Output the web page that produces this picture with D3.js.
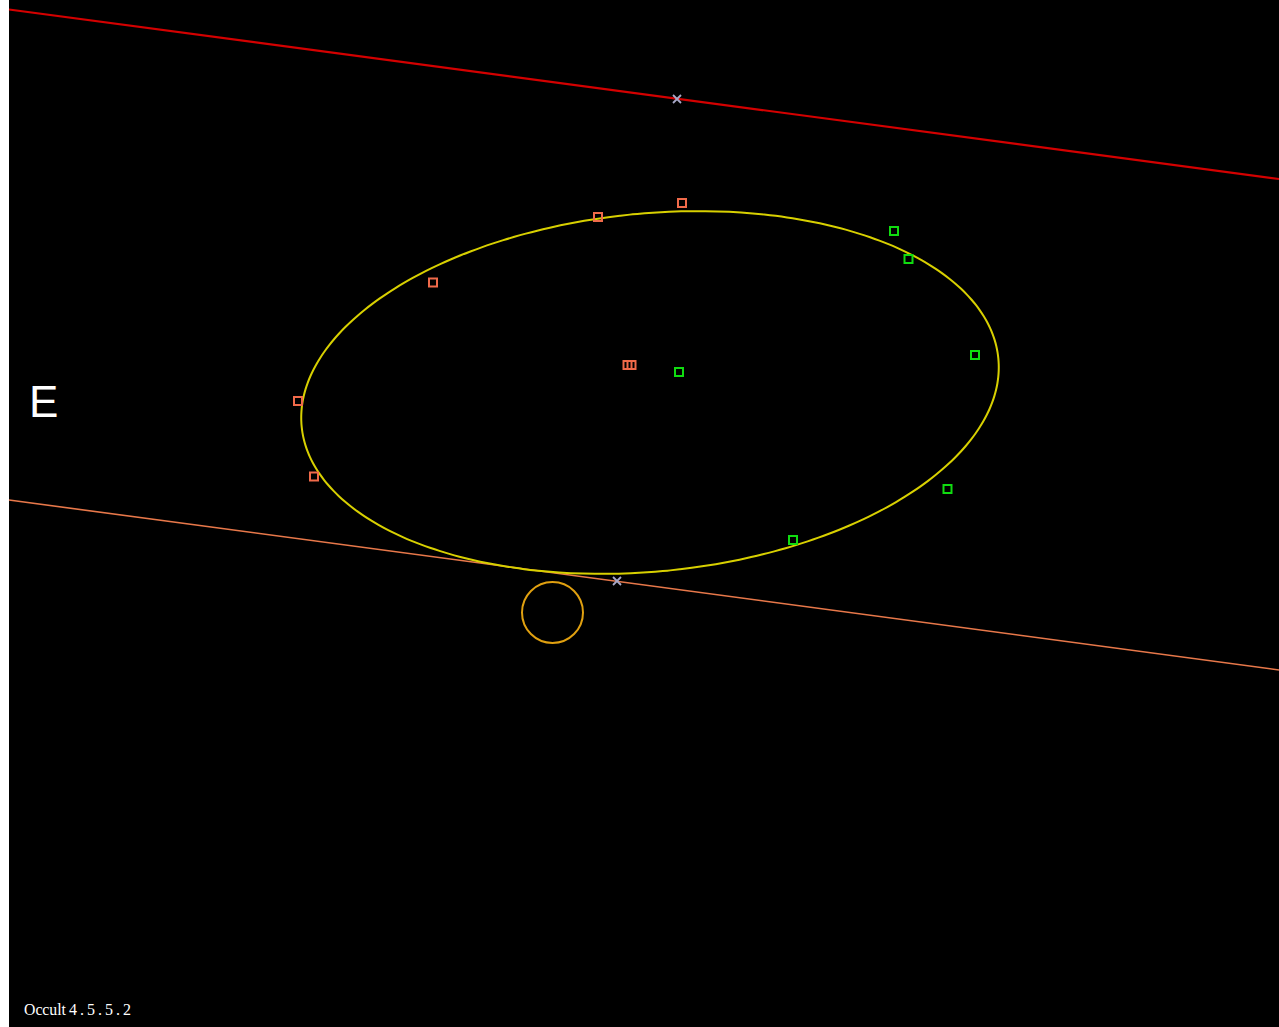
<!DOCTYPE html>
<html><head><meta charset="utf-8">
<script src="https://cdn.jsdelivr.net/npm/d3@7"></script>
<style>html,body{margin:0;padding:0;background:#fff;overflow:hidden}</style>
</head><body><svg id="c" width="1279" height="1027"></svg>
<script>
// Data in km-like units relative to asteroid centre (y up)
const redPath = [[-641, 380.5], [629, 211]];          // northern path limit
const orangePath = [[-641, -110], [629, -280]];       // southern path limit
const pathCrosses = [[27, 291], [-33, -191]];
const ellipseFit = {cx: 0, cy: -2.5, a: 350, b: 179, pa: 5.6};
const starCircle = {x: -97.5, y: -222.5, r: 30.5};
const disappear = [[32, 187], [-52, 173], [-217, 107.5], [-352, -11], [-336, -86.5], [-22.5, 25], [-18.5, 25]];
const reappear = [[244, 159], [258.5, 131], [325, 35], [297.5, -99], [143, -150], [29, 18]];
const labels = {dir: "E", version: "Occult 4.5.5.2"};

const svg = d3.select("#c");
const x = d3.scaleLinear().domain([-641, 629]).range([9, 1279]);
const y = d3.scaleLinear().domain([390, -637]).range([0, 1027]);

svg.append("rect").attr("x", 9).attr("y", 0).attr("width", 1270).attr("height", 1027).attr("fill", "#000");

const line = d3.line().x(d => x(d[0])).y(d => y(d[1]));
svg.append("path").attr("d", line(redPath)).attr("stroke", "#d40000").attr("stroke-width", 2.2).attr("fill", "none");
svg.append("path").attr("d", line(orangePath)).attr("stroke", "#e8784a").attr("stroke-width", 1.6).attr("fill", "none");

// ellipse
const phi = ellipseFit.pa * Math.PI / 180;
const ePts = d3.range(0, 360, 2).map(t => {
  const r = t * Math.PI / 180;
  return [ellipseFit.cx + ellipseFit.a * Math.cos(r) * Math.cos(phi) - ellipseFit.b * Math.sin(r) * Math.sin(phi),
          ellipseFit.cy + ellipseFit.a * Math.cos(r) * Math.sin(phi) + ellipseFit.b * Math.sin(r) * Math.cos(phi)];
});
svg.append("path").attr("d", d3.line().x(d => x(d[0])).y(d => y(d[1])).curve(d3.curveCardinalClosed)(ePts))
  .attr("stroke", "#d8d000").attr("stroke-width", 2).attr("fill", "none");

// star circle
svg.append("circle").attr("cx", x(starCircle.x)).attr("cy", y(starCircle.y))
  .attr("r", x(starCircle.r) - x(0)).attr("stroke", "#e0a010").attr("stroke-width", 2).attr("fill", "none");

// crosses
pathCrosses.forEach(d => {
  const cx = x(d[0]), cy = y(d[1]);
  svg.append("path").attr("d", `M${cx-4},${cy-4}L${cx+4},${cy+4}M${cx-4},${cy+4}L${cx+4},${cy-4}`)
    .attr("stroke", "#a8a8c8").attr("stroke-width", 1.8);
});

function squares(data, color) {
  svg.append("g").selectAll("rect").data(data).join("rect")
    .attr("x", d => x(d[0]) - 4).attr("y", d => y(d[1]) - 4)
    .attr("width", 8).attr("height", 8)
    .attr("fill", "none").attr("stroke", color).attr("stroke-width", 2);
}
squares(disappear, "#f06a4a");
squares(reappear, "#10dc10");

svg.append("text").attr("x", 29).attr("y", 417).attr("fill", "#fff")
  .attr("font-family", "Liberation Sans, Arial, sans-serif").attr("font-size", 44).text(labels.dir);

const parts = labels.version.split(" ");
svg.append("text").attr("x", 24).attr("y", 1015).attr("fill", "#fff")
  .attr("font-family", "Liberation Serif, Times New Roman, serif").attr("font-size", 16)
  .attr("textLength", 42).attr("lengthAdjust", "spacingAndGlyphs").text(parts[0]);
svg.append("text").attr("x", 69).attr("y", 1015).attr("fill", "#fff")
  .attr("font-family", "Liberation Serif, Times New Roman, serif").attr("font-size", 16)
  .attr("textLength", 62).attr("lengthAdjust", "spacing").text(parts[1]);
</script></body></html>
